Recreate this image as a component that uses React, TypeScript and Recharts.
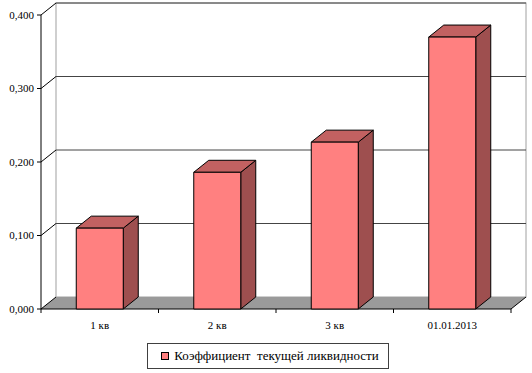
import React from 'react';
import { BarChart, Bar, XAxis, YAxis, CartesianGrid } from 'recharts';

const categories = ['1 кв', '2 кв', '3 кв', '01.01.2013'];
const ratioValues = [0.11, 0.186, 0.227, 0.37];
const yTicks = [0, 0.1, 0.2, 0.3, 0.4];
const seriesName = 'Коэффициент  текущей ликвидности';

const data = categories.map((name, i) => ({ name, ratio: ratioValues[i] }));

const FONT = '"Liberation Serif", "Times New Roman", serif';

// 3D depth offset of the back wall / bar tops
const DX = 15;
const DY = 12;

const Bar3D = (props: any) => {
  const { x, y, width, height } = props;
  if (height == null || width == null) return null;
  const top = `${x},${y} ${x + DX},${y - DY} ${x + width + DX},${y - DY} ${x + width},${y}`;
  const side = `${x + width},${y} ${x + width + DX},${y - DY} ${x + width + DX},${y + height - DY} ${x + width},${y + height}`;
  return (
    <g stroke="#000" strokeWidth={1} strokeLinejoin="round">
      <polygon points={side} fill="#9E4F4F" />
      <polygon points={top} fill="#C26161" />
      <rect x={x} y={y} width={width} height={height} fill="#FF8080" />
    </g>
  );
};

const gridLine = (p: any) => {
  const { x, y, width, height, y1, index } = p;
  const bottom = y + height;
  const parts: React.ReactNode[] = [];
  if (index === 0) {
    // back wall, floor, side edges
    parts.push(
      <rect key="wall" x={x + DX} y={y - DY} width={width} height={height} fill="#fff" stroke="#a0a0a0" />,
      <polygon
        key="floor"
        points={`${x},${bottom} ${x + DX},${bottom - DY} ${x + width + DX},${bottom - DY} ${x + width},${bottom}`}
        fill="#9a9a9a"
      />,
      <line key="fl" x1={x} y1={bottom} x2={x + width} y2={bottom} stroke="#000" />,
      <line key="fr" x1={x + width} y1={bottom} x2={x + width + DX} y2={bottom - DY} stroke="#000" />,
    );
    for (let i = 0; i <= categories.length; i++) {
      const tx = x + (width * i) / categories.length;
      parts.push(<line key={`t${i}`} x1={tx} y1={bottom} x2={tx} y2={bottom + 4} stroke="#000" />);
    }
  }
  parts.push(<line key="d" x1={x} y1={y1} x2={x + DX} y2={y1 - DY} stroke="#000" />);
  if (Math.abs(y1 - bottom) > 1) {
    parts.push(<line key="b" x1={x + DX} y1={y1 - DY} x2={x + width + DX} y2={y1 - DY} stroke="#444" />);
  }
  return <g key={p.key}>{parts}</g>;
};

export default function App() {
  return (
    <div
      style={{
        position: 'absolute',
        left: 0,
        top: 0,
        width: 532,
        height: 373,
        background: '#fff',
        fontFamily: FONT,
      }}
    >
      <BarChart
        width={532}
        height={373}
        data={data}
        margin={{ top: 15, right: 21, bottom: 34, left: 6 }}
        barCategoryGap="30%"
        style={{ fontFamily: FONT }}
      >
        <CartesianGrid vertical={false} horizontal={gridLine} />
        <XAxis
          dataKey="name"
          axisLine={false}
          tickLine={false}
          height={30}
          tickMargin={6}
          tick={{ fontSize: 11, fill: '#000', fontFamily: FONT }}
        />
        <YAxis
          domain={[0, 0.4]}
          ticks={yTicks}
          width={35}
          tickSize={4}
          tickMargin={3}
          axisLine={{ stroke: '#000' }}
          tickLine={{ stroke: '#000' }}
          tickFormatter={(v: number) => v.toFixed(3).replace('.', ',')}
          tick={{ fontSize: 11, fill: '#000', fontFamily: FONT }}
        />
        <Bar dataKey="ratio" shape={Bar3D} isAnimationActive={false} />
      </BarChart>
      <div
        style={{
          position: 'absolute',
          left: 147,
          top: 343,
          width: 242,
          height: 26,
          boxSizing: 'border-box',
          border: '1px solid #404040',
          fontSize: 13,
          color: '#000',
          display: 'flex',
          alignItems: 'center',
          justifyContent: 'center',
          paddingLeft: 4,
        }}
      >
        <span
          style={{
            display: 'inline-block',
            flexShrink: 0,
            boxSizing: 'border-box',
            width: 8,
            height: 8,
            marginRight: 5,
            background: '#FF8080',
            border: '1px solid #000',
          }}
        />
        <span style={{ whiteSpace: 'pre' }}>{seriesName}</span>
      </div>
    </div>
  );
}
